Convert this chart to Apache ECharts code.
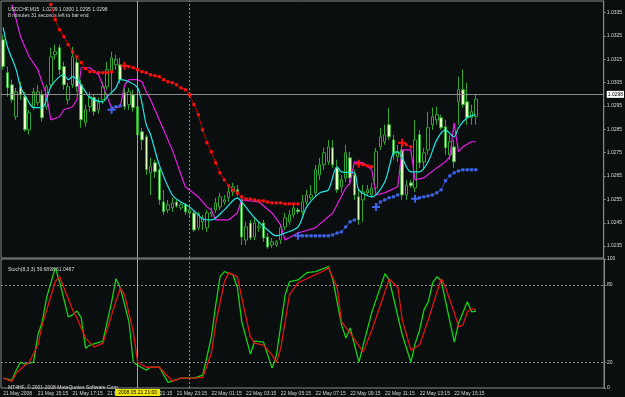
<!DOCTYPE html>
<html><head><meta charset="utf-8">
<script src="https://cdn.jsdelivr.net/npm/echarts@6/dist/echarts.min.js"></script>
<style>html,body{margin:0;padding:0;background:#0a0e0e;}#c{width:625px;height:397px;}</style>
</head><body><div id="c"></div>
<script>
// ---- data ----
const xTickLabels = ['21 May 2008','21 May 15:15','21 May 17:15','21 May 19:15','21 May 21:15','21 May 23:15','22 May 01:15','22 May 03:15','22 May 05:15','22 May 07:15','22 May 09:15','22 May 11:15','22 May 13:15','22 May 15:15'];
const barsPerLabel = 8;
const totalSlots = 139;
const priceTicks = [1.0235,1.0245,1.0255,1.0265,1.0275,1.0285,1.0295,1.0305,1.0315,1.0325,1.0335];
const stochTicks = [0,20,80,100];
const currentPrice = 1.0298;
const markerBar = 31; // 2008.05.21 21:00
const separatorBar = 43; // 22 May 00:00
// candles: [open, close, low, high]
const candles = [
[1.03234,1.03119,1.03106,1.03256],[1.03093,1.03028,1.02990,1.03119],[1.03041,1.02977,1.02964,1.03063],[1.02904,1.03011,1.02891,1.03028],
[1.03033,1.02998,1.02977,1.03054],[1.02990,1.02848,1.02840,1.03011],[1.02848,1.02921,1.02827,1.02934],[1.02947,1.03011,1.02934,1.03028],
[1.02964,1.03011,1.02951,1.03041],[1.02998,1.02900,1.02883,1.03020],[1.02947,1.03033,1.02934,1.03041],[1.03041,1.03161,1.03028,1.03200],
[1.03170,1.03183,1.03149,1.03213],[1.03200,1.03106,1.03084,1.03213],[1.03119,1.03041,1.03020,1.03140],[1.02977,1.03033,1.02956,1.03050],
[1.03041,1.03161,1.03028,1.03204],[1.03136,1.03033,1.03011,1.03157],[1.03041,1.02891,1.02857,1.03063],[1.02878,1.02934,1.02861,1.02956],
[1.02947,1.02990,1.02926,1.03011],[1.02986,1.02926,1.02908,1.02998],[1.02934,1.02964,1.02917,1.02986],[1.02977,1.03033,1.02960,1.03054],
[1.03033,1.03106,1.03020,1.03140],[1.03097,1.03157,1.03011,1.03183],[1.03127,1.03149,1.03106,1.03170],[1.03127,1.03063,1.03046,1.03157],
[1.03007,1.02947,1.02934,1.03028],[1.02956,1.03011,1.02934,1.03028],[1.02998,1.02943,1.02926,1.03020],[1.02947,1.02827,1.02814,1.02968],
[1.02840,1.02805,1.02762,1.02857],[1.02818,1.02677,1.02655,1.02827],[1.02664,1.02690,1.02569,1.02728],[1.02707,1.02668,1.02642,1.02720],
[1.02677,1.02548,1.02527,1.02685],[1.02539,1.02497,1.02484,1.02591],[1.02505,1.02527,1.02492,1.02548],[1.02514,1.02535,1.02497,1.02557],
[1.02539,1.02522,1.02514,1.02548],[1.02514,1.02527,1.02505,1.02535],[1.02527,1.02497,1.02484,1.02535],[1.02492,1.02505,1.02471,1.02518],
[1.02492,1.02419,1.02411,1.02501],[1.02428,1.02488,1.02419,1.02497],[1.02454,1.02471,1.02419,1.02484],[1.02428,1.02492,1.02411,1.02505],
[1.02488,1.02497,1.02475,1.02514],[1.02505,1.02535,1.02492,1.02557],[1.02518,1.02561,1.02505,1.02578],[1.02539,1.02548,1.02527,1.02569],
[1.02557,1.02582,1.02539,1.02604],[1.02582,1.02604,1.02565,1.02621],[1.02591,1.02582,1.02565,1.02612],[1.02548,1.02389,1.02355,1.02569],
[1.02376,1.02432,1.02355,1.02454],[1.02449,1.02385,1.02376,1.02462],[1.02389,1.02449,1.02376,1.02471],[1.02428,1.02436,1.02411,1.02454],
[1.02449,1.02385,1.02368,1.02462],[1.02389,1.02346,1.02338,1.02406],[1.02355,1.02368,1.02342,1.02385],[1.02355,1.02368,1.02346,1.02376],
[1.02376,1.02428,1.02359,1.02441],[1.02432,1.02471,1.02419,1.02492],[1.02454,1.02484,1.02441,1.02505],[1.02484,1.02514,1.02471,1.02527],
[1.02505,1.02497,1.02488,1.02514],[1.02497,1.02539,1.02484,1.02569],[1.02539,1.02569,1.02527,1.02591],[1.02557,1.02569,1.02548,1.02612],
[1.02578,1.02677,1.02565,1.02698],[1.02655,1.02698,1.02634,1.02728],[1.02698,1.02750,1.02677,1.02771],[1.02711,1.02775,1.02698,1.02805],
[1.02771,1.02698,1.02685,1.02805],[1.02685,1.02591,1.02578,1.02720],[1.02604,1.02634,1.02578,1.02655],[1.02642,1.02750,1.02625,1.02784],
[1.02728,1.02642,1.02612,1.02754],[1.02655,1.02569,1.02548,1.02677],[1.02561,1.02462,1.02441,1.02591],[1.02548,1.02582,1.02454,1.02612],
[1.02578,1.02591,1.02565,1.02612],[1.02569,1.02599,1.02557,1.02621],[1.02599,1.02754,1.02582,1.02771],[1.02775,1.02818,1.02762,1.02857],
[1.02797,1.02827,1.02784,1.02870],[1.02870,1.02818,1.02805,1.02943],[1.02805,1.02741,1.02720,1.02827],[1.02732,1.02754,1.02711,1.02784],
[1.02762,1.02569,1.02548,1.02784],[1.02569,1.02612,1.02548,1.02634],[1.02621,1.02608,1.02599,1.02634],[1.02599,1.02805,1.02582,1.02891],
[1.02827,1.02707,1.02685,1.02848],[1.02711,1.02750,1.02677,1.02771],[1.02762,1.02857,1.02741,1.02926],[1.02870,1.02904,1.02848,1.02943],
[1.02891,1.02913,1.02870,1.02947],[1.02900,1.02857,1.02848,1.02913],[1.02861,1.02771,1.02741,1.02891],[1.02741,1.02797,1.02720,1.02827],
[1.02775,1.02711,1.02685,1.02805],[1.02968,1.03020,1.02870,1.03076],[1.03020,1.02956,1.02943,1.03107],[1.02968,1.02900,1.02870,1.03050],
[1.02900,1.02926,1.02870,1.02956],[1.02904,1.02980,1.02870,1.02998]
];
// moving averages as [barIndex, price]
const cyanMA = [[0,1.03286],[1,1.03204],[3,1.03106],[4,1.03033],[6,1.02964],[7,1.02943],[9,1.02943],[10,1.02977],[11,1.03033],[13,1.03076],[14,1.03084],[15,1.03063],[16,1.03076],[17,1.03063],[19,1.03011],[20,1.02986],[23,1.02968],[24,1.02990],[26,1.03028],[27,1.03063],[29,1.03054],[31,1.03028],[32,1.02964],[33,1.02870],[34,1.02827],[36,1.02698],[39,1.02569],[41,1.02539],[43,1.02518],[45,1.02484],[46,1.02466],[48,1.02462],[51,1.02505],[54,1.02557],[55,1.02539],[58,1.02471],[61,1.02419],[63,1.02394],[65,1.02406],[68,1.02432],[70,1.02518],[73,1.02578],[75,1.02591],[77,1.02690],[78,1.02668],[81,1.02664],[82,1.02591],[85,1.02561],[88,1.02625],[90,1.02750],[91,1.02754],[94,1.02668],[96,1.02668],[98,1.02711],[100,1.02805],[102,1.02848],[104,1.02818],[105,1.02857],[107,1.02900],[109,1.02913]];
const magentaMA = [[2,1.03385],[3,1.03320],[4,1.03247],[6,1.03161],[8,1.03106],[9,1.03050],[10,1.02998],[11,1.02891],[13,1.02904],[14,1.02934],[16,1.02947],[17,1.02977],[18,1.03114],[20,1.03114],[22,1.03084],[24,1.02990],[25,1.02943],[26,1.02943],[27,1.02947],[28,1.03041],[29,1.03063],[31,1.03063],[32,1.03054],[33,1.03011],[34,1.02977],[37,1.02848],[39,1.02762],[42,1.02604],[45,1.02561],[47,1.02518],[48,1.02505],[49,1.02462],[52,1.02462],[54,1.02492],[55,1.02548],[59,1.02539],[62,1.02492],[64,1.02441],[65,1.02376],[68,1.02406],[72,1.02428],[76,1.02492],[79,1.02599],[80,1.02621],[81,1.02711],[83,1.02707],[85,1.02677],[86,1.02569],[88,1.02578],[91,1.02604],[92,1.02762],[94,1.02762],[95,1.02634],[97,1.02642],[100,1.02685],[102,1.02711],[103,1.02732],[104,1.02878],[105,1.02754],[106,1.02775],[108,1.02797],[109,1.02797]];
// trailing stops (segments), first point of later segments is a signal cross
const redStops = [
 [[11,1.03385],[12,1.03320],[13,1.03277],[14,1.03247],[15,1.03213],[16,1.03183],[17,1.03161],[18,1.03136],[19,1.03110],[20,1.03097],[21,1.03097],[22,1.03093],[23,1.03093],[24,1.03093],[25,1.03097]],
 [[28,1.03123],[29,1.03119],[30,1.03114],[31,1.03106],[32,1.03097],[33,1.03093],[34,1.03084],[35,1.03080],[36,1.03076],[37,1.03063],[38,1.03054],[39,1.03050],[40,1.03041],[41,1.03028],[42,1.03020],[43,1.02998],[44,1.02956],[45,1.02913],[46,1.02848],[47,1.02793],[48,1.02754],[49,1.02707],[50,1.02664],[51,1.02634],[52,1.02608],[53,1.02591],[54,1.02578],[55,1.02561],[56,1.02552],[57,1.02552],[58,1.02548],[59,1.02544],[60,1.02544],[61,1.02539],[62,1.02535],[63,1.02535],[64,1.02535],[65,1.02531],[66,1.02531],[67,1.02531],[68,1.02531]],
 [[82,1.02703],[83,1.02698],[84,1.02694],[85,1.02690]],
 [[92,1.02793],[93,1.02784],[94,1.02775]]
];
const redCrossSegments = [1,2,3];
const blueStops = [
 [[25,1.02934],[26,1.02947],[27,1.02951]],
 [[68,1.02394],[69,1.02394],[70,1.02394],[71,1.02394],[72,1.02394],[73,1.02394],[74,1.02394],[75,1.02394],[76,1.02398],[77,1.02406],[78,1.02411],[79,1.02432],[80,1.02454],[81,1.02462]],
 [[86,1.02518],[87,1.02539],[88,1.02548],[89,1.02557],[90,1.02561],[91,1.02569]],
 [[95,1.02553],[96,1.02557],[97,1.02561],[98,1.02565],[99,1.02569],[100,1.02578],[101,1.02591],[102,1.02630],[103,1.02651],[104,1.02664],[105,1.02672],[106,1.02677],[107,1.02677],[108,1.02677],[109,1.02677]]
];
const blueCrossSegments = [0,1,2,3];
const stochMain = [[0,7.6],[2,6.0],[3,13.8],[4,20.0],[5,18.5],[7,20.0],[8,41.1],[9,51.2],[10,69.9],[12,93.3],[13,82.4],[15,55.1],[16,56.7],[17,59.8],[18,54.3],[19,30.9],[20,33.3],[23,36.4],[25,66.8],[26,84.7],[27,77.7],[29,51.2],[30,20.0],[31,17.6],[33,13.8],[34,16.1],[36,16.1],[38,4.4],[41,7.6],[44,7.6],[46,9.9],[48,39.5],[49,64.4],[50,86.3],[51,90.2],[53,87.8],[54,77.7],[55,51.2],[57,26.3],[58,36.4],[60,35.6],[62,15.4],[63,25.5],[65,72.2],[66,82.4],[68,83.9],[70,89.4],[72,90.2],[75,94.1],[76,83.9],[78,48.9],[79,38.7],[80,46.5],[82,20.0],[83,33.3],[85,59.0],[88,88.6],[89,83.9],[92,41.1],[94,20.0],[95,34.8],[96,45.0],[97,60.6],[98,66.8],[99,81.6],[100,86.3],[101,83.2],[102,66.8],[104,35.6],[105,50.4],[107,66.8],[108,59.0],[109,59.69]];
const stochSignal = [[0,7.6],[2,5.2],[3,11.5],[5,17.7],[6,20.0],[8,33.3],[9,48.9],[12,82.4],[13,86.3],[14,77.7],[16,60.6],[17,54.3],[19,38.7],[21,31.7],[23,34.8],[25,56.7],[27,77.7],[28,72.2],[30,43.4],[31,20.0],[33,16.1],[36,16.1],[39,5.2],[41,7.6],[44,7.6],[46,8.3],[48,27.0],[49,50.0],[51,82.4],[52,89.4],[54,86.3],[55,69.9],[57,39.5],[58,34.8],[60,33.3],[62,25.5],[63,20.0],[64,30.9],[66,72.2],[68,81.6],[71,86.3],[74,90.9],[75,93.3],[77,77.7],[78,51.2],[80,42.6],[83,27.8],[85,45.0],[88,74.6],[89,84.7],[91,77.7],[92,52.8],[94,29.4],[96,33.3],[98,52.8],[100,74.6],[101,84.7],[102,77.7],[104,58.2],[105,47.3],[106,48.9],[107,59.0],[108,61.3],[109,61.05]];

// ---- chart ----
const FONT = 'Liberation Sans';
const TXT = '#d8d8d8';
const GOLD = '#c8b000';
const SEP = '#8c8c8c';
const slots = [];
for (let i = 0; i < totalSlots; i++) slots.push(String(i));
const crossPath = 'path://M0,3H8V5H0Z M3,0H5V8H3Z';

function stopSeries(segs, crossSegs, color, lineColor) {
  return segs.map((seg, si) => ({
    type: 'line', xAxisIndex: 0, yAxisIndex: 0, z: 6,
    data: seg.map((p, k) => (k === 0 && crossSegs.indexOf(si) >= 0)
      ? { value: p, symbol: crossPath, symbolSize: 8 } : { value: p }),
    symbol: 'rect', symbolSize: 3, showSymbol: true, showAllSymbol: true,
    itemStyle: { color: color },
    lineStyle: { color: lineColor, width: 1 },
    animation: false, silent: true
  }));
}

const chart = echarts.init(document.getElementById('c'), null, { renderer: 'canvas' });
const option = {
  backgroundColor: '#0a0e0e',
  animation: false,
  textStyle: { fontFamily: FONT },
  title: [
    { text: 'USDCHF,M15  1.0299 1.0300 1.0295 1.0298', left: 3, top: 2, textStyle: { color: TXT, fontSize: 5, fontWeight: 'normal', fontFamily: FONT } },
    { text: '8 minutes 31 seconds left to bar end', left: 3, top: 8, textStyle: { color: TXT, fontSize: 5, fontWeight: 'normal', fontFamily: FONT } },
    { text: 'Stoch(8,3,3) 59.6898 61.0487', left: 3, top: 262, textStyle: { color: TXT, fontSize: 5, fontWeight: 'normal', fontFamily: FONT } },
    { text: 'MT4HF, © 2001-2008 MetaQuotes Software Corp.', left: 3, top: 380, textStyle: { color: TXT, fontSize: 5, fontWeight: 'normal', fontFamily: FONT } }
  ],
  grid: [
    { left: 1, width: 603, top: 1, height: 257, show: true, borderColor: '#8a8a8a', borderWidth: 1 },
    { left: 1, width: 603, top: 259, height: 129, show: true, borderColor: '#8a8a8a', borderWidth: 1 }
  ],
  xAxis: [
    { type: 'category', gridIndex: 0, data: slots, boundaryGap: true, axisLine: { show: false }, axisTick: { show: false }, axisLabel: { show: false }, splitLine: { show: false } },
    { type: 'category', gridIndex: 1, data: slots, boundaryGap: true, axisLine: { show: false }, axisTick: { show: false },
      axisLabel: { show: true, interval: 0, align: 'left', margin: 3, color: TXT, fontSize: 5, fontFamily: FONT,
        formatter: (v, idx) => (idx % barsPerLabel === 0 && idx / barsPerLabel < xTickLabels.length) ? xTickLabels[idx / barsPerLabel] : '' },
      splitLine: { show: false } }
  ],
  yAxis: [
    { type: 'value', gridIndex: 0, position: 'right', min: 1.02299, max: 1.03400, scale: true,
      axisLine: { show: true, lineStyle: { color: '#8a8a8a' } },
      axisTick: { show: true, length: 2, lineStyle: { color: '#8a8a8a' }, customValues: priceTicks },
      axisLabel: { color: TXT, fontSize: 5, fontFamily: FONT, margin: 3, customValues: priceTicks, formatter: v => v.toFixed(4) },
      splitLine: { show: false } },
    { type: 'value', gridIndex: 1, position: 'right', min: 0, max: 100,
      axisLine: { show: true, lineStyle: { color: '#8a8a8a' } },
      axisTick: { show: true, length: 2, lineStyle: { color: '#8a8a8a' }, customValues: stochTicks },
      axisLabel: { color: TXT, fontSize: 5, fontFamily: FONT, margin: 3, customValues: stochTicks },
      splitLine: { show: false } }
  ],
  series: [
    { type: 'candlestick', xAxisIndex: 0, yAxisIndex: 0, data: candles, barWidth: 3, z: 3,
      itemStyle: { color: '#000000', color0: '#e6ffc4', borderColor: '#2ea62e', borderColor0: '#2ea62e', borderWidth: 1 } },
    { type: 'line', xAxisIndex: 0, yAxisIndex: 0, data: magentaMA, showSymbol: false, symbol: 'none', z: 4,
      lineStyle: { color: '#e61ee6', width: 1.2 },
      markLine: { symbol: 'none', silent: true, animation: false,
        data: [
          { yAxis: currentPrice, lineStyle: { color: SEP, type: 'solid', width: 1 },
            label: { show: true, position: 'end', distance: 3, formatter: currentPrice.toFixed(4), color: '#000', backgroundColor: '#ffffff', padding: [1, 1], fontSize: 5, fontFamily: FONT } },
          { xAxis: markerBar, lineStyle: { color: GOLD, type: 'solid', width: 1 }, label: { show: false } },
          { xAxis: separatorBar, lineStyle: { color: SEP, type: [2, 2], width: 1 }, label: { show: false } }
        ] } },
    { type: 'line', xAxisIndex: 0, yAxisIndex: 0, data: cyanMA, showSymbol: false, symbol: 'none', smooth: 0.3, z: 4,
      lineStyle: { color: '#1ee6e6', width: 1.2 } },
    ...stopSeries(redStops, redCrossSegments, '#ff1010', '#c00000'),
    ...stopSeries(blueStops, blueCrossSegments, '#3f66ea', '#2f48c0'),
    { type: 'line', xAxisIndex: 1, yAxisIndex: 1, data: stochMain, showSymbol: false, symbol: 'none', z: 4,
      lineStyle: { color: '#14d214', width: 1.3 },
      markLine: { symbol: 'none', silent: true, animation: false,
        data: [
          { yAxis: 80, lineStyle: { color: SEP, type: [2, 2], width: 1 }, label: { show: false } },
          { yAxis: 20, lineStyle: { color: SEP, type: [2, 2], width: 1 }, label: { show: false } },
          { xAxis: separatorBar, lineStyle: { color: SEP, type: [2, 2], width: 1 }, label: { show: false } },
          { xAxis: markerBar, lineStyle: { color: GOLD, type: 'solid', width: 1 },
            label: { show: true, position: 'start', distance: 1, formatter: '2008.05.21 21:00', color: '#000', backgroundColor: '#f0e800', padding: [1, 3], fontSize: 5, fontFamily: FONT } }
        ] } },
    { type: 'line', xAxisIndex: 1, yAxisIndex: 1, data: stochSignal, showSymbol: false, symbol: 'none', z: 5,
      lineStyle: { color: '#e01414', width: 1.3 } }
  ]
};
chart.setOption(option);
</script>
</body></html>
